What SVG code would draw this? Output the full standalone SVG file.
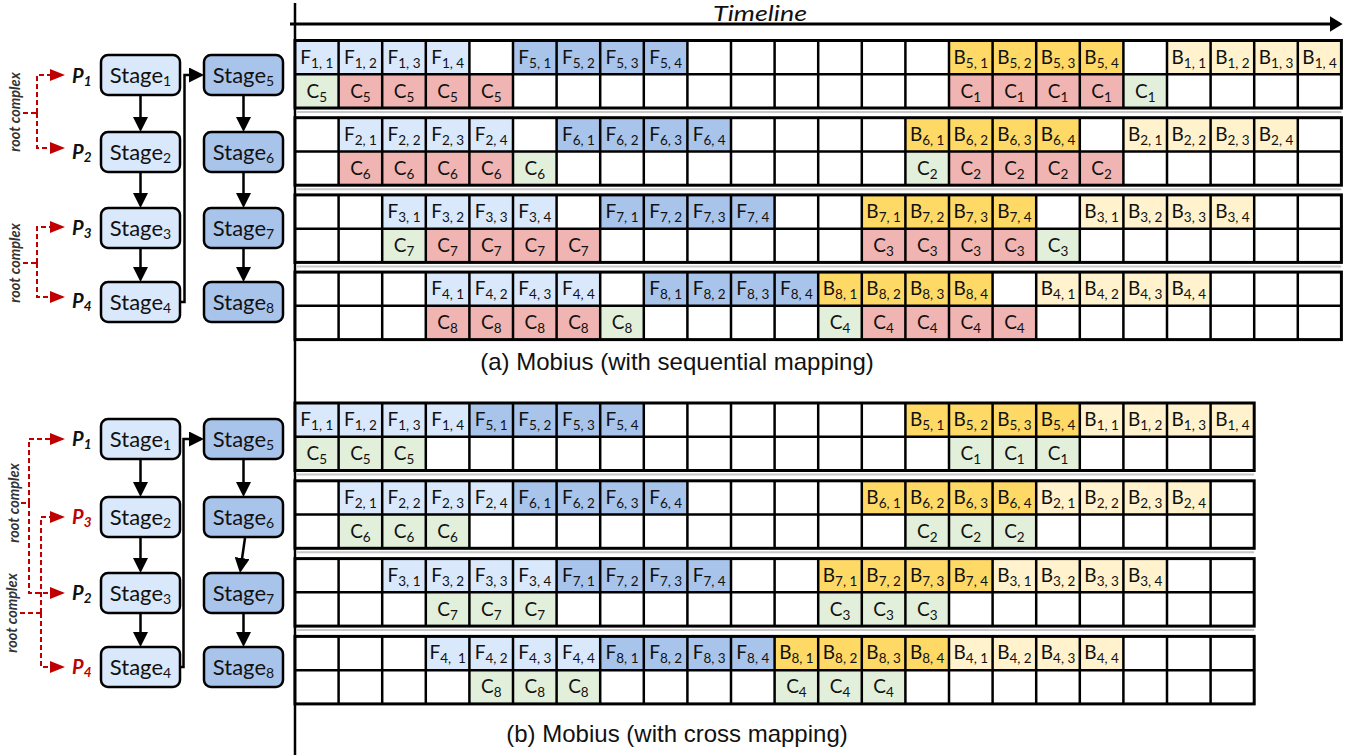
<svg xmlns="http://www.w3.org/2000/svg" width="1367" height="755" viewBox="0 0 1367 755">
<style>
.bg{fill:#fff}
.fl{fill:#dae8fc}.fd{fill:#a9c4eb}.bd{fill:#ffd966}.bl{fill:#fff2cc}.cr{fill:#f0b5b2}.cg{fill:#e2efda}
.gi{fill:none;stroke:#000;stroke-width:2.5}
.go{fill:none;stroke:#000;stroke-width:3}
.sep{stroke:#c8c8c8;stroke-width:2}
text{font-family:Lato,"Noto Sans",sans-serif}
.t{font-size:19px;text-anchor:middle;fill:#111}
.s{font-size:13.5px}
.st1{fill:#dae8fc;stroke:#000;stroke-width:2.5}
.st2{fill:#a9c4eb;stroke:#000;stroke-width:2.5}
.sl{font-size:22px;text-anchor:middle;fill:#111}
.ss{font-size:14px}
.p{font-size:20px;font-weight:700;font-style:italic;fill:#111}
.pr{fill:#c00000}
.ps{font-size:13.5px}
.rc{font-size:14.5px;font-style:italic;font-weight:700;fill:#333;text-anchor:middle}
.dash{fill:none;stroke:#c00000;stroke-width:2;stroke-dasharray:5 3}
.conn{fill:none;stroke:#000;stroke-width:2.5}
.cap{font-family:"Liberation Sans",Arial,sans-serif;font-size:24px;text-anchor:middle;fill:#111}
</style>
<defs>
<marker id="ah" viewBox="0 0 10 10" refX="8" refY="5" markerWidth="15" markerHeight="15" markerUnits="userSpaceOnUse" orient="auto"><path d="M0,0L10,5L0,10z" fill="#000"/></marker>
<marker id="ar" viewBox="0 0 10 10" refX="8" refY="5" markerWidth="15" markerHeight="12" markerUnits="userSpaceOnUse" orient="auto" preserveAspectRatio="none"><path d="M0,0L10,5L0,10z" fill="#c00000"/></marker>
<marker id="at" viewBox="0 0 10 10" refX="8" refY="5" markerWidth="13" markerHeight="16" markerUnits="userSpaceOnUse" orient="auto" preserveAspectRatio="none"><path d="M0,0L10,5L0,10z" fill="#000"/></marker>
<g id="gridA">
<path class="gi" d="M0 33.75H1046.4M43.6 0v67.5M87.2 0v67.5M130.8 0v67.5M174.4 0v67.5M218 0v67.5M261.6 0v67.5M305.2 0v67.5M348.8 0v67.5M392.4 0v67.5M436 0v67.5M479.6 0v67.5M523.2 0v67.5M566.8 0v67.5M610.4 0v67.5M654 0v67.5M697.6 0v67.5M741.2 0v67.5M784.8 0v67.5M828.4 0v67.5M872 0v67.5M915.6 0v67.5M959.2 0v67.5M1002.8 0v67.5"/>
<rect class="go" width="1046.4" height="67.5"/>
</g>
<g id="gridB">
<path class="gi" d="M0 33.75H959.2M43.6 0v67.5M87.2 0v67.5M130.8 0v67.5M174.4 0v67.5M218 0v67.5M261.6 0v67.5M305.2 0v67.5M348.8 0v67.5M392.4 0v67.5M436 0v67.5M479.6 0v67.5M523.2 0v67.5M566.8 0v67.5M610.4 0v67.5M654 0v67.5M697.6 0v67.5M741.2 0v67.5M784.8 0v67.5M828.4 0v67.5M872 0v67.5M915.6 0v67.5"/>
<rect class="go" width="959.2" height="67.5"/>
</g>
</defs>
<rect width="1367" height="755" fill="#fff"/>

<!-- timeline axes -->
<g id="timeline">
<path d="M295 3V755" stroke="#000" stroke-width="2.5"/>
<path d="M290 24H1340" stroke="#000" stroke-width="3" marker-end="url(#at)"/>
<text x="760" y="21" font-family="'Liberation Sans',Arial,sans-serif" font-size="22" font-style="italic" text-anchor="middle" fill="#111" textLength="94" lengthAdjust="spacingAndGlyphs">Timeline</text>
</g>

<!-- separators between pipeline rows -->
<g id="separators">
<path class="sep" d="M296 112H1341.4M296 189.2H1341.4M296 266.4H1341.4M296 474.5H1254.2M296 552.3H1254.2M296 630.1H1254.2"/>
</g>

<!-- (a) sequential mapping -->
<g id="a-row1" transform="translate(295,40.5)">
<rect class="bg" width="1046.4" height="67.5"/>
<rect class="fl" x="0" width="174.4" height="33.75"/>
<rect class="fd" x="218" width="174.4" height="33.75"/>
<rect class="bd" x="654" width="174.4" height="33.75"/>
<rect class="bl" x="872" width="174.4" height="33.75"/>
<rect class="cg" x="0" y="33.75" width="43.6" height="33.75"/>
<rect class="cr" x="43.6" y="33.75" width="174.4" height="33.75"/>
<rect class="cr" x="654" y="33.75" width="174.4" height="33.75"/>
<rect class="cg" x="828.4" y="33.75" width="43.6" height="33.75"/>
<text class="t" x="21.8" y="23">F<tspan class="s" dy="4">1, 1</tspan></text>
<text class="t" x="65.4" y="23">F<tspan class="s" dy="4">1, 2</tspan></text>
<text class="t" x="109" y="23">F<tspan class="s" dy="4">1, 3</tspan></text>
<text class="t" x="152.6" y="23">F<tspan class="s" dy="4">1, 4</tspan></text>
<text class="t" x="239.8" y="23">F<tspan class="s" dy="4">5, 1</tspan></text>
<text class="t" x="283.4" y="23">F<tspan class="s" dy="4">5, 2</tspan></text>
<text class="t" x="327" y="23">F<tspan class="s" dy="4">5, 3</tspan></text>
<text class="t" x="370.6" y="23">F<tspan class="s" dy="4">5, 4</tspan></text>
<text class="t" x="675.8" y="23">B<tspan class="s" dy="4">5, 1</tspan></text>
<text class="t" x="719.4" y="23">B<tspan class="s" dy="4">5, 2</tspan></text>
<text class="t" x="763" y="23">B<tspan class="s" dy="4">5, 3</tspan></text>
<text class="t" x="806.6" y="23">B<tspan class="s" dy="4">5, 4</tspan></text>
<text class="t" x="893.8" y="23">B<tspan class="s" dy="4">1, 1</tspan></text>
<text class="t" x="937.4" y="23">B<tspan class="s" dy="4">1, 2</tspan></text>
<text class="t" x="981" y="23">B<tspan class="s" dy="4">1, 3</tspan></text>
<text class="t" x="1024.6" y="23">B<tspan class="s" dy="4">1, 4</tspan></text>
<text class="t" x="21.8" y="57">C<tspan class="s" dy="4">5</tspan></text>
<text class="t" x="65.4" y="57">C<tspan class="s" dy="4">5</tspan></text>
<text class="t" x="109" y="57">C<tspan class="s" dy="4">5</tspan></text>
<text class="t" x="152.6" y="57">C<tspan class="s" dy="4">5</tspan></text>
<text class="t" x="196.2" y="57">C<tspan class="s" dy="4">5</tspan></text>
<text class="t" x="675.8" y="57">C<tspan class="s" dy="4">1</tspan></text>
<text class="t" x="719.4" y="57">C<tspan class="s" dy="4">1</tspan></text>
<text class="t" x="763" y="57">C<tspan class="s" dy="4">1</tspan></text>
<text class="t" x="806.6" y="57">C<tspan class="s" dy="4">1</tspan></text>
<text class="t" x="850.2" y="57">C<tspan class="s" dy="4">1</tspan></text>
<use href="#gridA"/>
</g>

<g id="a-row2" transform="translate(295,117.7)">
<rect class="bg" width="1046.4" height="67.5"/>
<rect class="fl" x="43.6" width="174.4" height="33.75"/>
<rect class="fd" x="261.6" width="174.4" height="33.75"/>
<rect class="bd" x="610.4" width="174.4" height="33.75"/>
<rect class="bl" x="828.4" width="174.4" height="33.75"/>
<rect class="cr" x="43.6" y="33.75" width="174.4" height="33.75"/>
<rect class="cg" x="218" y="33.75" width="43.6" height="33.75"/>
<rect class="cg" x="610.4" y="33.75" width="43.6" height="33.75"/>
<rect class="cr" x="654" y="33.75" width="174.4" height="33.75"/>
<text class="t" x="65.4" y="23">F<tspan class="s" dy="4">2, 1</tspan></text>
<text class="t" x="109" y="23">F<tspan class="s" dy="4">2, 2</tspan></text>
<text class="t" x="152.6" y="23">F<tspan class="s" dy="4">2, 3</tspan></text>
<text class="t" x="196.2" y="23">F<tspan class="s" dy="4">2, 4</tspan></text>
<text class="t" x="283.4" y="23">F<tspan class="s" dy="4">6, 1</tspan></text>
<text class="t" x="327" y="23">F<tspan class="s" dy="4">6, 2</tspan></text>
<text class="t" x="370.6" y="23">F<tspan class="s" dy="4">6, 3</tspan></text>
<text class="t" x="414.2" y="23">F<tspan class="s" dy="4">6, 4</tspan></text>
<text class="t" x="632.2" y="23">B<tspan class="s" dy="4">6, 1</tspan></text>
<text class="t" x="675.8" y="23">B<tspan class="s" dy="4">6, 2</tspan></text>
<text class="t" x="719.4" y="23">B<tspan class="s" dy="4">6, 3</tspan></text>
<text class="t" x="763" y="23">B<tspan class="s" dy="4">6, 4</tspan></text>
<text class="t" x="850.2" y="23">B<tspan class="s" dy="4">2, 1</tspan></text>
<text class="t" x="893.8" y="23">B<tspan class="s" dy="4">2, 2</tspan></text>
<text class="t" x="937.4" y="23">B<tspan class="s" dy="4">2, 3</tspan></text>
<text class="t" x="981" y="23">B<tspan class="s" dy="4">2, 4</tspan></text>
<text class="t" x="65.4" y="57">C<tspan class="s" dy="4">6</tspan></text>
<text class="t" x="109" y="57">C<tspan class="s" dy="4">6</tspan></text>
<text class="t" x="152.6" y="57">C<tspan class="s" dy="4">6</tspan></text>
<text class="t" x="196.2" y="57">C<tspan class="s" dy="4">6</tspan></text>
<text class="t" x="239.8" y="57">C<tspan class="s" dy="4">6</tspan></text>
<text class="t" x="632.2" y="57">C<tspan class="s" dy="4">2</tspan></text>
<text class="t" x="675.8" y="57">C<tspan class="s" dy="4">2</tspan></text>
<text class="t" x="719.4" y="57">C<tspan class="s" dy="4">2</tspan></text>
<text class="t" x="763" y="57">C<tspan class="s" dy="4">2</tspan></text>
<text class="t" x="806.6" y="57">C<tspan class="s" dy="4">2</tspan></text>
<use href="#gridA"/>
</g>

<g id="a-row3" transform="translate(295,194.9)">
<rect class="bg" width="1046.4" height="67.5"/>
<rect class="fl" x="87.2" width="174.4" height="33.75"/>
<rect class="fd" x="305.2" width="174.4" height="33.75"/>
<rect class="bd" x="566.8" width="174.4" height="33.75"/>
<rect class="bl" x="784.8" width="174.4" height="33.75"/>
<rect class="cg" x="87.2" y="33.75" width="43.6" height="33.75"/>
<rect class="cr" x="130.8" y="33.75" width="174.4" height="33.75"/>
<rect class="cr" x="566.8" y="33.75" width="174.4" height="33.75"/>
<rect class="cg" x="741.2" y="33.75" width="43.6" height="33.75"/>
<text class="t" x="109" y="23">F<tspan class="s" dy="4">3, 1</tspan></text>
<text class="t" x="152.6" y="23">F<tspan class="s" dy="4">3, 2</tspan></text>
<text class="t" x="196.2" y="23">F<tspan class="s" dy="4">3, 3</tspan></text>
<text class="t" x="239.8" y="23">F<tspan class="s" dy="4">3, 4</tspan></text>
<text class="t" x="327" y="23">F<tspan class="s" dy="4">7, 1</tspan></text>
<text class="t" x="370.6" y="23">F<tspan class="s" dy="4">7, 2</tspan></text>
<text class="t" x="414.2" y="23">F<tspan class="s" dy="4">7, 3</tspan></text>
<text class="t" x="457.8" y="23">F<tspan class="s" dy="4">7, 4</tspan></text>
<text class="t" x="588.6" y="23">B<tspan class="s" dy="4">7, 1</tspan></text>
<text class="t" x="632.2" y="23">B<tspan class="s" dy="4">7, 2</tspan></text>
<text class="t" x="675.8" y="23">B<tspan class="s" dy="4">7, 3</tspan></text>
<text class="t" x="719.4" y="23">B<tspan class="s" dy="4">7, 4</tspan></text>
<text class="t" x="806.6" y="23">B<tspan class="s" dy="4">3, 1</tspan></text>
<text class="t" x="850.2" y="23">B<tspan class="s" dy="4">3, 2</tspan></text>
<text class="t" x="893.8" y="23">B<tspan class="s" dy="4">3, 3</tspan></text>
<text class="t" x="937.4" y="23">B<tspan class="s" dy="4">3, 4</tspan></text>
<text class="t" x="109" y="57">C<tspan class="s" dy="4">7</tspan></text>
<text class="t" x="152.6" y="57">C<tspan class="s" dy="4">7</tspan></text>
<text class="t" x="196.2" y="57">C<tspan class="s" dy="4">7</tspan></text>
<text class="t" x="239.8" y="57">C<tspan class="s" dy="4">7</tspan></text>
<text class="t" x="283.4" y="57">C<tspan class="s" dy="4">7</tspan></text>
<text class="t" x="588.6" y="57">C<tspan class="s" dy="4">3</tspan></text>
<text class="t" x="632.2" y="57">C<tspan class="s" dy="4">3</tspan></text>
<text class="t" x="675.8" y="57">C<tspan class="s" dy="4">3</tspan></text>
<text class="t" x="719.4" y="57">C<tspan class="s" dy="4">3</tspan></text>
<text class="t" x="763" y="57">C<tspan class="s" dy="4">3</tspan></text>
<use href="#gridA"/>
</g>

<g id="a-row4" transform="translate(295,272.1)">
<rect class="bg" width="1046.4" height="67.5"/>
<rect class="fl" x="130.8" width="174.4" height="33.75"/>
<rect class="fd" x="348.8" width="174.4" height="33.75"/>
<rect class="bd" x="523.2" width="174.4" height="33.75"/>
<rect class="bl" x="741.2" width="174.4" height="33.75"/>
<rect class="cr" x="130.8" y="33.75" width="174.4" height="33.75"/>
<rect class="cg" x="305.2" y="33.75" width="43.6" height="33.75"/>
<rect class="cg" x="523.2" y="33.75" width="43.6" height="33.75"/>
<rect class="cr" x="566.8" y="33.75" width="174.4" height="33.75"/>
<text class="t" x="152.6" y="23">F<tspan class="s" dy="4">4, 1</tspan></text>
<text class="t" x="196.2" y="23">F<tspan class="s" dy="4">4, 2</tspan></text>
<text class="t" x="239.8" y="23">F<tspan class="s" dy="4">4, 3</tspan></text>
<text class="t" x="283.4" y="23">F<tspan class="s" dy="4">4, 4</tspan></text>
<text class="t" x="370.6" y="23">F<tspan class="s" dy="4">8, 1</tspan></text>
<text class="t" x="414.2" y="23">F<tspan class="s" dy="4">8, 2</tspan></text>
<text class="t" x="457.8" y="23">F<tspan class="s" dy="4">8, 3</tspan></text>
<text class="t" x="501.4" y="23">F<tspan class="s" dy="4">8, 4</tspan></text>
<text class="t" x="545" y="23">B<tspan class="s" dy="4">8, 1</tspan></text>
<text class="t" x="588.6" y="23">B<tspan class="s" dy="4">8, 2</tspan></text>
<text class="t" x="632.2" y="23">B<tspan class="s" dy="4">8, 3</tspan></text>
<text class="t" x="675.8" y="23">B<tspan class="s" dy="4">8, 4</tspan></text>
<text class="t" x="763" y="23">B<tspan class="s" dy="4">4, 1</tspan></text>
<text class="t" x="806.6" y="23">B<tspan class="s" dy="4">4, 2</tspan></text>
<text class="t" x="850.2" y="23">B<tspan class="s" dy="4">4, 3</tspan></text>
<text class="t" x="893.8" y="23">B<tspan class="s" dy="4">4, 4</tspan></text>
<text class="t" x="152.6" y="57">C<tspan class="s" dy="4">8</tspan></text>
<text class="t" x="196.2" y="57">C<tspan class="s" dy="4">8</tspan></text>
<text class="t" x="239.8" y="57">C<tspan class="s" dy="4">8</tspan></text>
<text class="t" x="283.4" y="57">C<tspan class="s" dy="4">8</tspan></text>
<text class="t" x="327" y="57">C<tspan class="s" dy="4">8</tspan></text>
<text class="t" x="545" y="57">C<tspan class="s" dy="4">4</tspan></text>
<text class="t" x="588.6" y="57">C<tspan class="s" dy="4">4</tspan></text>
<text class="t" x="632.2" y="57">C<tspan class="s" dy="4">4</tspan></text>
<text class="t" x="675.8" y="57">C<tspan class="s" dy="4">4</tspan></text>
<text class="t" x="719.4" y="57">C<tspan class="s" dy="4">4</tspan></text>
<use href="#gridA"/>
</g>

<text class="cap" x="677" y="370">(a) Mobius (with sequential mapping)</text>

<!-- (b) cross mapping -->
<g id="b-row1" transform="translate(295,403)">
<rect class="bg" width="959.2" height="67.5"/>
<rect class="fl" x="0" width="174.4" height="33.75"/>
<rect class="fd" x="174.4" width="174.4" height="33.75"/>
<rect class="bd" x="610.4" width="174.4" height="33.75"/>
<rect class="bl" x="784.8" width="174.4" height="33.75"/>
<rect class="cg" x="0" y="33.75" width="130.8" height="33.75"/>
<rect class="cg" x="654" y="33.75" width="130.8" height="33.75"/>
<text class="t" x="21.8" y="23">F<tspan class="s" dy="4">1, 1</tspan></text>
<text class="t" x="65.4" y="23">F<tspan class="s" dy="4">1, 2</tspan></text>
<text class="t" x="109" y="23">F<tspan class="s" dy="4">1, 3</tspan></text>
<text class="t" x="152.6" y="23">F<tspan class="s" dy="4">1, 4</tspan></text>
<text class="t" x="196.2" y="23">F<tspan class="s" dy="4">5, 1</tspan></text>
<text class="t" x="239.8" y="23">F<tspan class="s" dy="4">5, 2</tspan></text>
<text class="t" x="283.4" y="23">F<tspan class="s" dy="4">5, 3</tspan></text>
<text class="t" x="327" y="23">F<tspan class="s" dy="4">5, 4</tspan></text>
<text class="t" x="632.2" y="23">B<tspan class="s" dy="4">5, 1</tspan></text>
<text class="t" x="675.8" y="23">B<tspan class="s" dy="4">5, 2</tspan></text>
<text class="t" x="719.4" y="23">B<tspan class="s" dy="4">5, 3</tspan></text>
<text class="t" x="763" y="23">B<tspan class="s" dy="4">5, 4</tspan></text>
<text class="t" x="806.6" y="23">B<tspan class="s" dy="4">1, 1</tspan></text>
<text class="t" x="850.2" y="23">B<tspan class="s" dy="4">1, 2</tspan></text>
<text class="t" x="893.8" y="23">B<tspan class="s" dy="4">1, 3</tspan></text>
<text class="t" x="937.4" y="23">B<tspan class="s" dy="4">1, 4</tspan></text>
<text class="t" x="21.8" y="57">C<tspan class="s" dy="4">5</tspan></text>
<text class="t" x="65.4" y="57">C<tspan class="s" dy="4">5</tspan></text>
<text class="t" x="109" y="57">C<tspan class="s" dy="4">5</tspan></text>
<text class="t" x="675.8" y="57">C<tspan class="s" dy="4">1</tspan></text>
<text class="t" x="719.4" y="57">C<tspan class="s" dy="4">1</tspan></text>
<text class="t" x="763" y="57">C<tspan class="s" dy="4">1</tspan></text>
<use href="#gridB"/>
</g>

<g id="b-row2" transform="translate(295,480.8)">
<rect class="bg" width="959.2" height="67.5"/>
<rect class="fl" x="43.6" width="174.4" height="33.75"/>
<rect class="fd" x="218" width="174.4" height="33.75"/>
<rect class="bd" x="566.8" width="174.4" height="33.75"/>
<rect class="bl" x="741.2" width="174.4" height="33.75"/>
<rect class="cg" x="43.6" y="33.75" width="130.8" height="33.75"/>
<rect class="cg" x="610.4" y="33.75" width="130.8" height="33.75"/>
<text class="t" x="65.4" y="23">F<tspan class="s" dy="4">2, 1</tspan></text>
<text class="t" x="109" y="23">F<tspan class="s" dy="4">2, 2</tspan></text>
<text class="t" x="152.6" y="23">F<tspan class="s" dy="4">2, 3</tspan></text>
<text class="t" x="196.2" y="23">F<tspan class="s" dy="4">2, 4</tspan></text>
<text class="t" x="239.8" y="23">F<tspan class="s" dy="4">6, 1</tspan></text>
<text class="t" x="283.4" y="23">F<tspan class="s" dy="4">6, 2</tspan></text>
<text class="t" x="327" y="23">F<tspan class="s" dy="4">6, 3</tspan></text>
<text class="t" x="370.6" y="23">F<tspan class="s" dy="4">6, 4</tspan></text>
<text class="t" x="588.6" y="23">B<tspan class="s" dy="4">6, 1</tspan></text>
<text class="t" x="632.2" y="23">B<tspan class="s" dy="4">6, 2</tspan></text>
<text class="t" x="675.8" y="23">B<tspan class="s" dy="4">6, 3</tspan></text>
<text class="t" x="719.4" y="23">B<tspan class="s" dy="4">6, 4</tspan></text>
<text class="t" x="763" y="23">B<tspan class="s" dy="4">2, 1</tspan></text>
<text class="t" x="806.6" y="23">B<tspan class="s" dy="4">2, 2</tspan></text>
<text class="t" x="850.2" y="23">B<tspan class="s" dy="4">2, 3</tspan></text>
<text class="t" x="893.8" y="23">B<tspan class="s" dy="4">2, 4</tspan></text>
<text class="t" x="65.4" y="57">C<tspan class="s" dy="4">6</tspan></text>
<text class="t" x="109" y="57">C<tspan class="s" dy="4">6</tspan></text>
<text class="t" x="152.6" y="57">C<tspan class="s" dy="4">6</tspan></text>
<text class="t" x="632.2" y="57">C<tspan class="s" dy="4">2</tspan></text>
<text class="t" x="675.8" y="57">C<tspan class="s" dy="4">2</tspan></text>
<text class="t" x="719.4" y="57">C<tspan class="s" dy="4">2</tspan></text>
<use href="#gridB"/>
</g>

<g id="b-row3" transform="translate(295,558.6)">
<rect class="bg" width="959.2" height="67.5"/>
<rect class="fl" x="87.2" width="174.4" height="33.75"/>
<rect class="fd" x="261.6" width="174.4" height="33.75"/>
<rect class="bd" x="523.2" width="174.4" height="33.75"/>
<rect class="bl" x="697.6" width="174.4" height="33.75"/>
<rect class="cg" x="130.8" y="33.75" width="130.8" height="33.75"/>
<rect class="cg" x="523.2" y="33.75" width="130.8" height="33.75"/>
<text class="t" x="109" y="23">F<tspan class="s" dy="4">3, 1</tspan></text>
<text class="t" x="152.6" y="23">F<tspan class="s" dy="4">3, 2</tspan></text>
<text class="t" x="196.2" y="23">F<tspan class="s" dy="4">3, 3</tspan></text>
<text class="t" x="239.8" y="23">F<tspan class="s" dy="4">3, 4</tspan></text>
<text class="t" x="283.4" y="23">F<tspan class="s" dy="4">7, 1</tspan></text>
<text class="t" x="327" y="23">F<tspan class="s" dy="4">7, 2</tspan></text>
<text class="t" x="370.6" y="23">F<tspan class="s" dy="4">7, 3</tspan></text>
<text class="t" x="414.2" y="23">F<tspan class="s" dy="4">7, 4</tspan></text>
<text class="t" x="545" y="23">B<tspan class="s" dy="4">7, 1</tspan></text>
<text class="t" x="588.6" y="23">B<tspan class="s" dy="4">7, 2</tspan></text>
<text class="t" x="632.2" y="23">B<tspan class="s" dy="4">7, 3</tspan></text>
<text class="t" x="675.8" y="23">B<tspan class="s" dy="4">7, 4</tspan></text>
<text class="t" x="719.4" y="23">B<tspan class="s" dy="4">3, 1</tspan></text>
<text class="t" x="763" y="23">B<tspan class="s" dy="4">3, 2</tspan></text>
<text class="t" x="806.6" y="23">B<tspan class="s" dy="4">3, 3</tspan></text>
<text class="t" x="850.2" y="23">B<tspan class="s" dy="4">3, 4</tspan></text>
<text class="t" x="152.6" y="57">C<tspan class="s" dy="4">7</tspan></text>
<text class="t" x="196.2" y="57">C<tspan class="s" dy="4">7</tspan></text>
<text class="t" x="239.8" y="57">C<tspan class="s" dy="4">7</tspan></text>
<text class="t" x="545" y="57">C<tspan class="s" dy="4">3</tspan></text>
<text class="t" x="588.6" y="57">C<tspan class="s" dy="4">3</tspan></text>
<text class="t" x="632.2" y="57">C<tspan class="s" dy="4">3</tspan></text>
<use href="#gridB"/>
</g>

<g id="b-row4" transform="translate(295,636.4)">
<rect class="bg" width="959.2" height="67.5"/>
<rect class="fl" x="130.8" width="174.4" height="33.75"/>
<rect class="fd" x="305.2" width="174.4" height="33.75"/>
<rect class="bd" x="479.6" width="174.4" height="33.75"/>
<rect class="bl" x="654" width="174.4" height="33.75"/>
<rect class="cg" x="174.4" y="33.75" width="130.8" height="33.75"/>
<rect class="cg" x="479.6" y="33.75" width="130.8" height="33.75"/>
<text class="t" x="152.6" y="23">F<tspan class="s" dy="4">4,&#160; 1</tspan></text>
<text class="t" x="196.2" y="23">F<tspan class="s" dy="4">4, 2</tspan></text>
<text class="t" x="239.8" y="23">F<tspan class="s" dy="4">4, 3</tspan></text>
<text class="t" x="283.4" y="23">F<tspan class="s" dy="4">4, 4</tspan></text>
<text class="t" x="327" y="23">F<tspan class="s" dy="4">8, 1</tspan></text>
<text class="t" x="370.6" y="23">F<tspan class="s" dy="4">8, 2</tspan></text>
<text class="t" x="414.2" y="23">F<tspan class="s" dy="4">8, 3</tspan></text>
<text class="t" x="457.8" y="23">F<tspan class="s" dy="4">8, 4</tspan></text>
<text class="t" x="501.4" y="23">B<tspan class="s" dy="4">8, 1</tspan></text>
<text class="t" x="545" y="23">B<tspan class="s" dy="4">8, 2</tspan></text>
<text class="t" x="588.6" y="23">B<tspan class="s" dy="4">8, 3</tspan></text>
<text class="t" x="632.2" y="23">B<tspan class="s" dy="4">8, 4</tspan></text>
<text class="t" x="675.8" y="23">B<tspan class="s" dy="4">4, 1</tspan></text>
<text class="t" x="719.4" y="23">B<tspan class="s" dy="4">4, 2</tspan></text>
<text class="t" x="763" y="23">B<tspan class="s" dy="4">4, 3</tspan></text>
<text class="t" x="806.6" y="23">B<tspan class="s" dy="4">4, 4</tspan></text>
<text class="t" x="196.2" y="57">C<tspan class="s" dy="4">8</tspan></text>
<text class="t" x="239.8" y="57">C<tspan class="s" dy="4">8</tspan></text>
<text class="t" x="283.4" y="57">C<tspan class="s" dy="4">8</tspan></text>
<text class="t" x="501.4" y="57">C<tspan class="s" dy="4">4</tspan></text>
<text class="t" x="545" y="57">C<tspan class="s" dy="4">4</tspan></text>
<text class="t" x="588.6" y="57">C<tspan class="s" dy="4">4</tspan></text>
<use href="#gridB"/>
</g>

<text class="cap" x="677" y="742">(b) Mobius (with cross mapping)</text>

<!-- stage nodes, (a) -->
<g id="a-stage1"><rect class="st1" x="101" y="55" width="79" height="40" rx="7"/><text class="sl" x="140.5" y="83">Stage<tspan class="ss" dy="3">1</tspan></text></g>
<g id="a-stage2"><rect class="st1" x="101" y="132" width="79" height="40" rx="7"/><text class="sl" x="140.5" y="160">Stage<tspan class="ss" dy="3">2</tspan></text></g>
<g id="a-stage3"><rect class="st1" x="101" y="208" width="79" height="40" rx="7"/><text class="sl" x="140.5" y="236">Stage<tspan class="ss" dy="3">3</tspan></text></g>
<g id="a-stage4"><rect class="st1" x="101" y="282" width="79" height="40" rx="7"/><text class="sl" x="140.5" y="310">Stage<tspan class="ss" dy="3">4</tspan></text></g>
<g id="a-stage5"><rect class="st2" x="204" y="55" width="79" height="40" rx="7"/><text class="sl" x="243.5" y="83">Stage<tspan class="ss" dy="3">5</tspan></text></g>
<g id="a-stage6"><rect class="st2" x="204" y="132" width="79" height="40" rx="7"/><text class="sl" x="243.5" y="160">Stage<tspan class="ss" dy="3">6</tspan></text></g>
<g id="a-stage7"><rect class="st2" x="204" y="208" width="79" height="40" rx="7"/><text class="sl" x="243.5" y="236">Stage<tspan class="ss" dy="3">7</tspan></text></g>
<g id="a-stage8"><rect class="st2" x="204" y="282" width="79" height="40" rx="7"/><text class="sl" x="243.5" y="310">Stage<tspan class="ss" dy="3">8</tspan></text></g>

<!-- GPU labels, (a) -->
<g id="a-gpus">
<text class="p" x="72" y="83">P<tspan class="ps" dy="3">1</tspan></text>
<text class="p" x="72" y="159">P<tspan class="ps" dy="3">2</tspan></text>
<text class="p" x="72" y="235">P<tspan class="ps" dy="3">3</tspan></text>
<text class="p" x="72" y="308">P<tspan class="ps" dy="3">4</tspan></text>
<text class="rc" transform="translate(20,112) rotate(-90)">root complex</text>
<text class="rc" transform="translate(20,263) rotate(-90)">root complex</text>
</g>

<!-- stage nodes, (b) -->
<g id="b-stage1"><rect class="st1" x="101" y="419" width="79" height="40" rx="7"/><text class="sl" x="140.5" y="447">Stage<tspan class="ss" dy="3">1</tspan></text></g>
<g id="b-stage2"><rect class="st1" x="101" y="497" width="79" height="40" rx="7"/><text class="sl" x="140.5" y="525">Stage<tspan class="ss" dy="3">2</tspan></text></g>
<g id="b-stage3"><rect class="st1" x="101" y="573" width="79" height="40" rx="7"/><text class="sl" x="140.5" y="601">Stage<tspan class="ss" dy="3">3</tspan></text></g>
<g id="b-stage4"><rect class="st1" x="101" y="647" width="79" height="40" rx="7"/><text class="sl" x="140.5" y="675">Stage<tspan class="ss" dy="3">4</tspan></text></g>
<g id="b-stage5"><rect class="st2" x="204" y="419" width="79" height="40" rx="7"/><text class="sl" x="243.5" y="447">Stage<tspan class="ss" dy="3">5</tspan></text></g>
<g id="b-stage6"><rect class="st2" x="204" y="497" width="79" height="40" rx="7"/><text class="sl" x="243.5" y="525">Stage<tspan class="ss" dy="3">6</tspan></text></g>
<g id="b-stage7"><rect class="st2" x="204" y="573" width="79" height="40" rx="7"/><text class="sl" x="243.5" y="601">Stage<tspan class="ss" dy="3">7</tspan></text></g>
<g id="b-stage8"><rect class="st2" x="204" y="647" width="79" height="40" rx="7"/><text class="sl" x="243.5" y="675">Stage<tspan class="ss" dy="3">8</tspan></text></g>

<!-- GPU labels, (b) -->
<g id="b-gpus">
<text class="p" x="72" y="446">P<tspan class="ps" dy="3">1</tspan></text>
<text class="p pr" x="72" y="524">P<tspan class="ps" dy="3">3</tspan></text>
<text class="p" x="72" y="600">P<tspan class="ps" dy="3">2</tspan></text>
<text class="p pr" x="72" y="674">P<tspan class="ps" dy="3">4</tspan></text>
<text class="rc" transform="translate(19,503) rotate(-90)">root complex</text>
<text class="rc" transform="translate(17,613) rotate(-90)">root complex</text>
</g>

<!-- connectors -->
<g id="connectors">
<path class="conn" d="M140.5 96V129" marker-end="url(#ah)"/>
<path class="conn" d="M140.5 173V205" marker-end="url(#ah)"/>
<path class="conn" d="M140.5 249V279" marker-end="url(#ah)"/>
<path class="conn" d="M243.5 96V129" marker-end="url(#ah)"/>
<path class="conn" d="M243.5 173V205" marker-end="url(#ah)"/>
<path class="conn" d="M243.5 249V279" marker-end="url(#ah)"/>
<path class="conn" stroke-width="2" d="M180 302H184.5V75H201" marker-end="url(#ah)"/>
<path class="conn" d="M140.5 460V494" marker-end="url(#ah)"/>
<path class="conn" d="M140.5 538V570" marker-end="url(#ah)"/>
<path class="conn" d="M140.5 614V644" marker-end="url(#ah)"/>
<path class="conn" d="M243.5 460V494" marker-end="url(#ah)"/>
<path class="conn" d="M245 538L240.4 570" marker-end="url(#ah)"/>
<path class="conn" d="M243.5 614V644" marker-end="url(#ah)"/>
<path class="conn" stroke-width="2" d="M180 667H183.5V439H201" marker-end="url(#ah)"/>
<path class="dash" d="M23 113H37"/>
<path class="dash" d="M37 113V75H62" marker-end="url(#ar)"/>
<path class="dash" d="M37 113V148H62" marker-end="url(#ar)"/>
<path class="dash" d="M23 263H37"/>
<path class="dash" d="M37 263V227H62" marker-end="url(#ar)"/>
<path class="dash" d="M37 263V297H62" marker-end="url(#ar)"/>
<path class="dash" d="M21 503H29"/>
<path class="dash" d="M29 503V439H62" marker-end="url(#ar)"/>
<path class="dash" d="M29 503V593H62" marker-end="url(#ar)"/>
<path class="dash" d="M20 613H41"/>
<path class="dash" d="M41 613V517H62" marker-end="url(#ar)"/>
<path class="dash" d="M41 613V667H62" marker-end="url(#ar)"/>
</g>
</svg>
